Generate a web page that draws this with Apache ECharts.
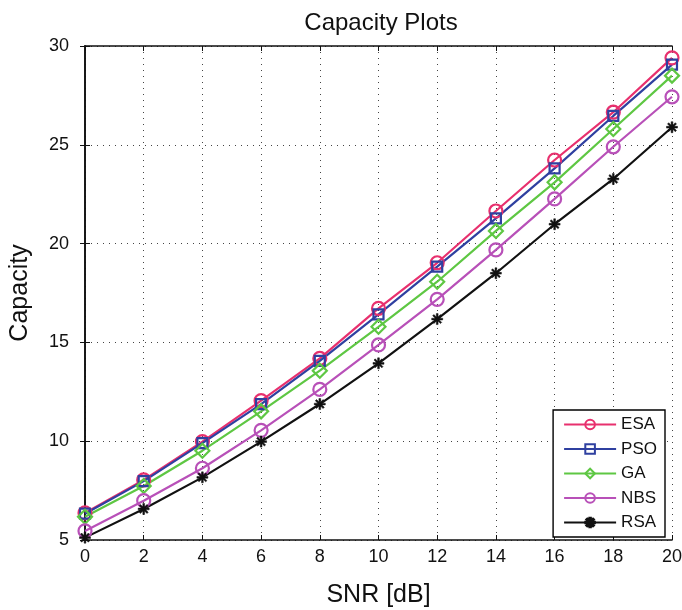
<!DOCTYPE html>
<html><head><meta charset="utf-8">
<script src="https://cdn.jsdelivr.net/npm/echarts@6/dist/echarts.min.js"></script>
<style>html,body{margin:0;padding:0;background:#fff}#c{width:682px;height:610px}</style>
</head><body><div id="c"></div>
<script>
const snr = [0, 2, 4, 6, 8, 10, 12, 14, 16, 18, 20];
const esa = [6.37, 8.04, 9.98, 12.05, 14.19, 16.72, 19.03, 21.65, 24.23, 26.65, 29.4];
const pso = [6.33, 7.98, 9.9, 11.88, 14.06, 16.42, 18.83, 21.28, 23.81, 26.46, 29.06];
const ga  = [6.18, 7.73, 9.52, 11.51, 13.57, 15.79, 18.07, 20.64, 23.1, 25.8, 28.5];
const nbs = [5.46, 6.99, 8.63, 10.55, 12.62, 14.87, 17.18, 19.68, 22.26, 24.9, 27.43];
const rsa = [5.12, 6.57, 8.17, 9.98, 11.88, 13.94, 16.18, 18.5, 20.98, 23.27, 25.89];
const xTicks = [0, 2, 4, 6, 8, 10, 12, 14, 16, 18, 20];
const yTicks = [5, 10, 15, 20, 25, 30];

const FONT = 'Liberation Sans';
const asterisk = 'path://M0,4.2L10,4.2L10,5.8L0,5.8Z M4.2,0L5.8,0L5.8,10L4.2,10Z M2.0,0.9L9.1,8.0L8.0,9.1L0.9,2.0Z M8.0,0.9L9.1,2.0L2.0,9.1L0.9,8.0Z';

function mk(name, data, color, symbol, size) {
  const filled = symbol === asterisk;
  return {
    name, type: 'line', data: snr.map((x, i) => [x, data[i]]),
    symbol, symbolSize: size, showAllSymbol: true,
    lineStyle: { color, width: 2.2 },
    itemStyle: { color: filled ? color : 'rgba(255,255,255,0)', borderColor: color, borderWidth: filled ? 0.5 : 2.2 },
    emphasis: { disabled: true }, animation: false
  };
}

const chart = echarts.init(document.getElementById('c'), null, { renderer: 'canvas' });
chart.setOption({
  animation: false,
  title: { text: 'Capacity Plots', left: 376, textAlign: 'center', top: 6,
    textStyle: { fontFamily: FONT, fontSize: 24, fontWeight: 'normal', color: '#111' } },
  grid: { left: 85, right: 10, top: 46, bottom: 70, outerBoundsMode: 'none', containLabel: false },
  legend: {
    orient: 'vertical', right: 17, top: 410,
    backgroundColor: '#fff', borderColor: '#000', borderWidth: 1.4, borderRadius: 0,
    padding: [6, 8, 6, 10], itemWidth: 52, itemHeight: 12, itemGap: 7.5,
    textStyle: { fontFamily: FONT, fontSize: 17, color: '#111' },
    data: ['ESA', 'PSO', 'GA', 'NBS', 'RSA']
  },
  xAxis: [{
    type: 'value', min: 0, max: 20, interval: 2,
    name: 'SNR [dB]', nameLocation: 'middle', nameGap: 43,
    nameTextStyle: { fontFamily: FONT, fontSize: 25, color: '#111' },
    axisLine: { show: true, lineStyle: { color: '#111', width: 1.6 } },
    axisTick: { show: true, inside: true, length: 5, lineStyle: { color: '#111' } },
    axisLabel: { fontFamily: FONT, fontSize: 18, color: '#111', margin: 8,
      formatter: v => xTicks.includes(v) ? String(v) : '' },
    splitLine: { show: true, lineStyle: { color: '#444', type: [1, 5], width: 1 } }
  }, {
    type: 'value', min: 0, max: 20, interval: 2, position: 'top',
    axisLine: { show: true, lineStyle: { color: '#111', width: 1.6 } },
    axisTick: { show: true, inside: true, length: 5, lineStyle: { color: '#111' } },
    axisLabel: { show: false }, splitLine: { show: false }
  }],
  yAxis: [{
    type: 'value', min: 5, max: 30, interval: 5,
    name: 'Capacity', nameLocation: 'middle', nameGap: 52,
    nameTextStyle: { fontFamily: FONT, fontSize: 25, color: '#111' },
    axisLine: { show: true, lineStyle: { color: '#111', width: 1.6 } },
    axisTick: { show: true, inside: true, length: 5, lineStyle: { color: '#111' } },
    axisLabel: { fontFamily: FONT, fontSize: 18, color: '#111', margin: 16,
      formatter: v => yTicks.includes(v) ? String(v) : '' },
    splitLine: { show: true, lineStyle: { color: '#444', type: [1, 5], width: 1 } }
  }, {
    type: 'value', min: 5, max: 30, interval: 5, position: 'right',
    axisLine: { show: true, lineStyle: { color: '#111', width: 1.6 } },
    axisTick: { show: true, inside: true, length: 5, lineStyle: { color: '#111' } },
    axisLabel: { show: false }, splitLine: { show: false }
  }],
  series: [
    mk('ESA', esa, '#e8306e', 'circle', 13),
    mk('PSO', pso, '#2f40a0', 'rect', 10),
    mk('GA', ga, '#5ec743', 'diamond', 14),
    mk('NBS', nbs, '#b850b8', 'circle', 13),
    mk('RSA', rsa, '#111111', asterisk, 11)
  ]
});
</script></body></html>
